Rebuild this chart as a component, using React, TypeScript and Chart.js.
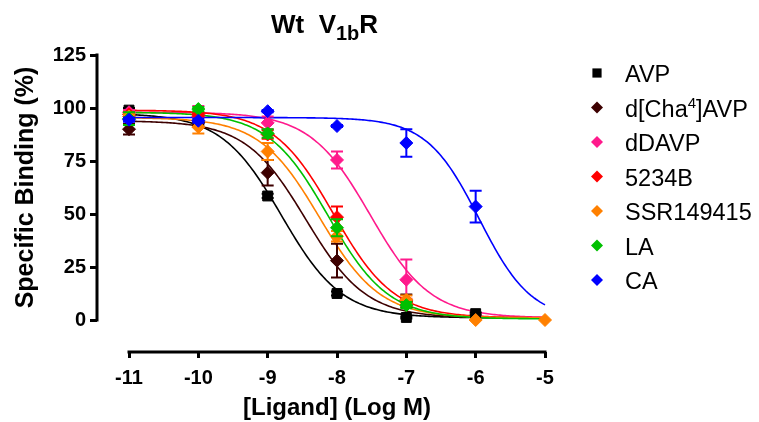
import { useEffect, useRef } from "react";
import { Chart, registerables } from "chart.js";

Chart.register(...registerables);

const FONT = "'Liberation Sans', Arial, Helvetica, sans-serif";

// log10 of ligand concentration (M)
const logDoses = [-11, -10, -9, -8, -7, -6, -5];
const xTickValues = [-11, -10, -9, -8, -7, -6, -5];
const yTickValues = [0, 25, 50, 75, 100, 125];

const xAxisTitle = "[Ligand] (Log M)";
const yAxisTitle = "Specific Binding (%)";

// legend text split into [normal, superscript, normal] pieces
const ligandLabels = [["AVP"], ["d[Cha", "4", "]AVP"], ["dDAVP"], ["5234B"], ["SSR149415"], ["LA"], ["CA"]];
const ligandColors = ["#000000", "#3d0000", "#ff1a8c", "#ff0000", "#ff8000", "#00c000", "#0000ff"];
const ligandMarkers = ["rect", "rectRot", "rectRot", "rectRot", "rectRot", "rectRot", "rectRot"];

// mean specific binding (%) at each dose; null where there is no point
const avpMean = [99, 95, 58.5, 12.5, 1.2, 3, null];
const chaMean = [90, 93, 69.5, 28, 9, null, null];
const ddavpMean = [98, 96, 93, 75.5, 19, null, null];
const b5234Mean = [97, 97, 87.5, 48.5, 8.5, null, null];
const ssrMean = [96, 91, 79.5, 39.5, 9.5, 0, 0];
const laMean = [95, 99.5, 88, 43.5, 7, null, null];
const caMean = [94.5, 94, 98.5, 91.5, 83.5, 53.5, null];

// SEM of each mean
const avpSem = [1, 1, 1, 1, 0.5, 0.5, null];
const chaSem = [2.5, 1, 6, 8, 3, null, null];
const ddavpSem = [1, 5, 3, 4, 9.5, null, null];
const b5234Sem = [1, 1, 2, 5, 1.5, null, null];
const ssrSem = [1, 3, 4, 2.5, 2, 0, 0];
const laSem = [3, 1, 2, 4, 1.5, null, null];
const caSem = [1, 1, 0.5, 0.5, 6.5, 7.5, null];

// one-site competition fits: top, bottom, logIC50, Hill slope
const fitTop = [97.5, 94, 98, 99, 95.5, 98, 95.5];
const fitBottom = [1, 1, 1, 1, 1, 0.5, 0];
const fitLogIC50 = [-8.8, -8.45, -7.52, -8.05, -8.25, -8.13, -5.95];
const fitHill = [-1, -1, -1, -1, -1, -1, -1.15];

const meanSets = [avpMean, chaMean, ddavpMean, b5234Mean, ssrMean, laMean, caMean];
const semSets = [avpSem, chaSem, ddavpSem, b5234Sem, ssrSem, laSem, caSem];

const fitCurve = (i: number) => {
  const pts: { x: number; y: number }[] = [];
  for (let k = 0; k <= 240; k++) {
    const lx = -11 + k * 0.025;
    const y = fitBottom[i] + (fitTop[i] - fitBottom[i]) / (1 + Math.pow(10, (fitLogIC50[i] - lx) * fitHill[i]));
    pts.push({ x: lx, y });
  }
  return pts;
};

const drawMarker = (ctx: CanvasRenderingContext2D, style: string, x: number, y: number, r: number) => {
  ctx.beginPath();
  if (style === "rect") {
    const s = r * Math.SQRT1_2;
    ctx.rect(x - s, y - s, 2 * s, 2 * s);
  } else {
    ctx.moveTo(x, y - r);
    ctx.lineTo(x + r, y);
    ctx.lineTo(x, y + r);
    ctx.lineTo(x - r, y);
    ctx.closePath();
  }
  ctx.fill();
};

const decorPlugin = {
  id: "decor",
  beforeDatasetsDraw(chart: any) {
    const { ctx, scales } = chart;
    const x = scales.x;
    const y = scales.y;
    ctx.save();
    ctx.strokeStyle = "#000";
    ctx.lineWidth = 3;
    const ax = chart.chartArea.left;
    ctx.beginPath();
    ctx.moveTo(ax, y.getPixelForValue(0) + 1.5);
    ctx.lineTo(ax, y.getPixelForValue(125) - 1.5);
    ctx.stroke();
    const ay = chart.chartArea.bottom;
    ctx.beginPath();
    ctx.moveTo(x.getPixelForValue(-11) - 1.5, ay);
    ctx.lineTo(x.getPixelForValue(-5) + 1.5, ay);
    ctx.stroke();
    ctx.restore();
  },
  beforeDatasetDraw(chart: any, args: any) {
    const i = args.index;
    if (i >= meanSets.length) return;
    const { ctx, scales } = chart;
    const x = scales.x;
    const y = scales.y;
    const mean = meanSets[i];
    const sem = semSets[i];
    ctx.save();
    ctx.strokeStyle = ligandColors[i];
    ctx.lineWidth = 2;
    for (let k = 0; k < logDoses.length; k++) {
      const m = mean[k];
      const e = sem[k];
      if (m == null || e == null || e <= 0) continue;
      const px = x.getPixelForValue(logDoses[k]);
      const pt = y.getPixelForValue(m + e);
      const pb = y.getPixelForValue(m - e);
      ctx.beginPath();
      ctx.moveTo(px, pt);
      ctx.lineTo(px, pb);
      ctx.moveTo(px - 6, pt);
      ctx.lineTo(px + 6, pt);
      ctx.moveTo(px - 6, pb);
      ctx.lineTo(px + 6, pb);
      ctx.stroke();
    }
    ctx.restore();
  },
  afterDraw(chart: any) {
    const { ctx, scales } = chart;
    const x = scales.x;
    const y = scales.y;
    ctx.save();
    ctx.fillStyle = "#000";

    // axis titles, centred on the drawn axis lines
    ctx.font = `bold 24px ${FONT}`;
    ctx.textAlign = "center";
    ctx.textBaseline = "middle";
    ctx.fillText(xAxisTitle, (x.getPixelForValue(-11) + x.getPixelForValue(-5)) / 2, 408);
    ctx.save();
    ctx.font = `bold 25px ${FONT}`;
    ctx.translate(26, (y.getPixelForValue(0) + y.getPixelForValue(125)) / 2);
    ctx.rotate(-Math.PI / 2);
    ctx.fillText(yAxisTitle, 0, 0);
    ctx.restore();

    ctx.textBaseline = "alphabetic";
    ctx.textAlign = "left";

    // title: Wt  V1bR
    let tx = 271;
    ctx.font = `bold 26px ${FONT}`;
    ctx.fillText("Wt  V", tx, 33);
    tx += ctx.measureText("Wt  V").width;
    ctx.font = `bold 20px ${FONT}`;
    ctx.fillText("1b", tx, 40);
    tx += ctx.measureText("1b").width;
    ctx.font = `bold 26px ${FONT}`;
    ctx.fillText("R", tx, 33);

    // legend
    for (let i = 0; i < ligandLabels.length; i++) {
      const cy = 73 + i * 34.5;
      ctx.fillStyle = ligandColors[i];
      drawMarker(ctx, ligandMarkers[i], 597, cy, ligandMarkers[i] === "rect" ? 6.5 : 6);
      ctx.fillStyle = "#000";
      let lx = 625;
      const parts = ligandLabels[i];
      parts.forEach((p, j) => {
        const sup = j === 1;
        ctx.font = sup ? `15px ${FONT}` : `23.5px ${FONT}`;
        ctx.fillText(p, lx, cy + (sup ? 0 : 9));
        lx += ctx.measureText(p).width;
      });
    }
    ctx.restore();
  },
};

export default function App() {
  const canvasRef = useRef<HTMLCanvasElement | null>(null);

  useEffect(() => {
    const canvas = canvasRef.current;
    if (!canvas) return;

    const pointSets = meanSets.map((mean, i) => ({
      label: ligandLabels[i].join(""),
      data: logDoses.map((d, k) => ({ x: d, y: mean[k] })),
      showLine: false,
      pointStyle: ligandMarkers[i],
      pointRadius: ligandMarkers[i] === "rect" ? 7 : 6.5,
      pointBackgroundColor: ligandColors[i],
      pointBorderColor: ligandColors[i],
      pointBorderWidth: 1,
      borderColor: ligandColors[i],
      backgroundColor: ligandColors[i],
      clip: false,
      order: 50 - i,
    }));

    const curveSets = meanSets.map((_, i) => ({
      label: ligandLabels[i].join("") + " fit",
      data: fitCurve(i),
      showLine: true,
      pointRadius: 0,
      borderColor: ligandColors[i],
      borderWidth: 1.6,
      tension: 0,
      clip: false,
      order: 100 - i,
    }));

    const tickFont = { family: FONT, size: 20, weight: "bold" as const };

    const chart = new Chart(canvas, {
      type: "scatter",
      data: { datasets: [...pointSets, ...curveSets] as any },
      plugins: [decorPlugin as any],
      options: {
        animation: false,
        responsive: true,
        maintainAspectRatio: false,
        layout: { padding: { top: 55, right: 214, bottom: 0, left: 0 } },
        plugins: {
          legend: { display: false },
          title: { display: false },
          tooltip: { enabled: false },
        },
        scales: {
          x: {
            type: "linear",
            min: -11 - 32 / (416 / 6),
            max: -5,
            afterBuildTicks: (s: any) => {
              s.ticks = xTickValues.map((v) => ({ value: v }));
            },
            afterFit: (s: any) => {
              s.height = 70;
            },
            border: { display: false },
            grid: { display: true, drawOnChartArea: false, drawTicks: true, tickLength: 6, color: "#000", lineWidth: 3 },
            ticks: {
              font: tickFont,
              color: "#000",
              padding: 8,
              autoSkip: false,
              maxRotation: 0,
              callback: (v: any) => String(v),
            },
            title: { display: false },
          },
          y: {
            type: "linear",
            min: -(32 * 125) / 265,
            max: 125,
            afterBuildTicks: (s: any) => {
              s.ticks = yTickValues.map((v) => ({ value: v }));
            },
            afterFit: (s: any) => {
              s.width = 97;
            },
            border: { display: false },
            grid: { display: true, drawOnChartArea: false, drawTicks: true, tickLength: 7, color: "#000", lineWidth: 3 },
            ticks: {
              font: tickFont,
              color: "#000",
              padding: 4,
              autoSkip: false,
              callback: (v: any) => String(v),
            },
            title: { display: false },
          },
        },
      },
    });

    return () => chart.destroy();
  }, []);

  return (
    <div style={{ position: "fixed", left: 0, top: 0, width: 759, height: 422, background: "#fff" }}>
      <canvas ref={canvasRef} />
    </div>
  );
}
